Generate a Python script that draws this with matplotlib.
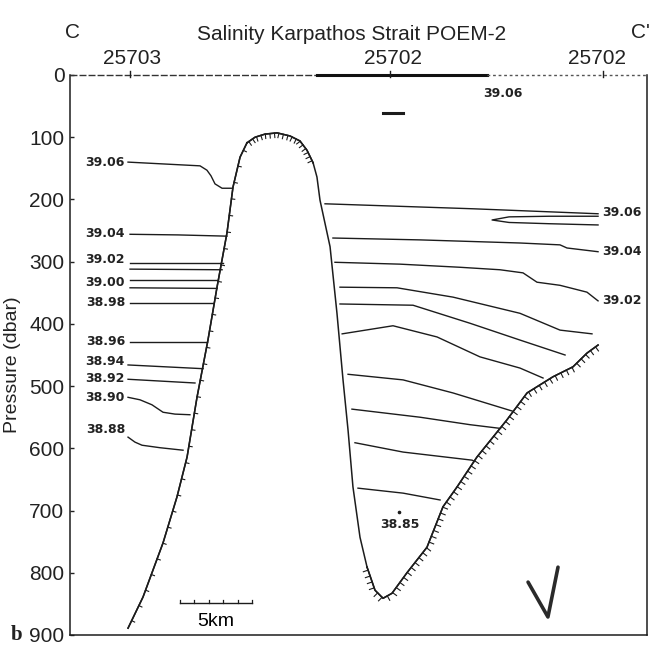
import matplotlib
matplotlib.use("Agg")
import matplotlib.pyplot as plt
import matplotlib.patheffects as pe

plt.rcParams['font.family'] = ['Liberation Sans', 'DejaVu Sans']

# ---- section geometry: distance (km) and pressure (dbar) ----
ridge_left_km = [4.03, 5.07, 6.46, 7.43, 8.13, 8.82, 9.58, 10.21, 10.90, 11.32, 11.81, 12.29]
ridge_left_p = [889, 839, 752, 678, 614, 518, 426, 341, 254, 180, 132, 109]
ridge_top_km = [12.29, 12.85, 13.54, 14.38, 15.28, 15.97, 16.46, 16.88]
ridge_top_p = [109, 100, 95, 93, 98, 106, 121, 141]
ridge_right_km = [16.88, 17.15, 17.36, 18.06, 18.54, 18.96, 19.31, 19.65, 20.14, 20.63]
ridge_right_p = [141, 164, 201, 276, 383, 490, 571, 662, 743, 791]
basin_km = [20.63, 21.18, 21.74, 22.36, 23.40, 24.79, 25.90, 26.88, 28.26, 30.35, 31.74,
            33.54, 34.93, 35.90, 36.67]
basin_p = [791, 828, 841, 833, 800, 759, 694, 662, 614, 554, 511, 485, 469, 447, 434]

# ---- isohalines west of the ridge ----
west_lines = [
    ([4.03, 9.03, 9.51, 9.79, 10.07, 10.56, 11.25], [140, 146, 153, 162, 175, 182, 182]),
    ([4.17, 7.5, 10.90], [256, 257, 259]),
    ([4.17, 10.63], [302, 302]),
    ([4.17, 10.56], [312, 313]),
    ([4.17, 10.28], [329, 329]),
    ([4.17, 10.21], [342, 343]),
    ([4.17, 9.93], [366, 366]),
    ([4.17, 9.51], [429, 429]),
    ([4.03, 9.24], [466, 472]),
    ([4.03, 8.68], [489, 495]),
    ([4.03, 4.86, 5.69, 6.46, 7.29, 8.33], [518, 522, 530, 542, 545, 546]),
    ([4.03, 4.51, 5.00, 6.25, 7.85], [582, 590, 595, 599, 603]),
]
west_labels = ['39.06', '39.04', '39.02', '39.00', '38.98', '38.96', '38.94', '38.92',
               '38.90', '38.88']
west_label_p = [140, 254, 297, 334, 366, 429, 461, 487, 519, 569]

# ---- isohalines east of the ridge ----
east_lines = [
    ([17.71, 27.99, 36.67], [207, 215, 223]),
    ([36.67, 33.26, 30.49, 29.31, 30.49, 33.26, 36.67], [227, 227, 228, 233, 237, 239, 241]),
    ([18.26, 24.31, 31.25, 34.03, 34.51, 36.67], [262, 265, 270, 273, 278, 284]),
    ([18.40, 22.92, 27.08, 29.86, 31.46, 32.43, 34.03, 35.90, 36.67],
     [301, 304, 309, 313, 318, 333, 338, 349, 363]),
    ([18.75, 22.71, 26.60, 31.25, 34.03, 36.25], [341, 342, 357, 383, 410, 416]),
    ([18.75, 23.82, 27.78, 31.25, 34.38], [368, 370, 399, 426, 450]),
    ([18.90, 22.43, 25.49, 28.47, 31.25, 32.85], [416, 403, 421, 453, 471, 487]),
    ([19.31, 23.13, 26.60, 30.70], [481, 490, 511, 540]),
    ([19.58, 24.31, 27.78, 29.90], [537, 550, 562, 568]),
    ([19.79, 23.13, 27.92, 28.10], [591, 606, 619, 621]),
    ([20.00, 23.13, 25.70], [664, 672, 683]),
]
east_labels = ['39.06', '39.04', '39.02']
east_label_p = [221, 284, 363]

core_label = '38.85'
core_km, core_p = 22.92, 723

stations = ['25703', '25702', '25702']
station_km = [4.17, 22.22, 37.0]
station_label_km = [4.3, 22.4, 36.6]

pressure_ticks = list(range(0, 1000, 100))

# ---- figure ----
fig = plt.figure(figsize=(6.52, 6.46), dpi=100)
ax = fig.add_axes([70 / 652, 1 - 635 / 646, 577 / 652, 560 / 646])
ax.set_xlim(0, 40.07)
ax.set_ylim(900, 0)

ink = '#1c1c1c'
lw = 1.0

# sea floor
ax.plot(ridge_left_km, ridge_left_p, color=ink, lw=1.1,
        path_effects=[pe.withTickedStroke(angle=-90, spacing=12, length=0.2, linewidth=0.8),
                      pe.Normal()])
ax.plot(ridge_top_km, ridge_top_p, color=ink, lw=1.1,
        path_effects=[pe.withTickedStroke(angle=-90, spacing=3.2, length=1.0, linewidth=0.8),
                      pe.Normal()])
ax.plot(ridge_right_km, ridge_right_p, color=ink, lw=1.1)
ax.plot(basin_km, basin_p, color=ink, lw=1.1,
        path_effects=[pe.withTickedStroke(angle=-90, spacing=4.5, length=0.8, linewidth=0.8),
                      pe.Normal()])

for xs, ps in west_lines + east_lines:
    ax.plot(xs, ps, color=ink, lw=lw)

lab_kw = dict(fontsize=9, color='#222222', family=['DejaVu Sans'], fontweight='bold')
for txt, p in zip(west_labels, west_label_p):
    ax.text(3.82, p, txt, ha='right', va='center', **lab_kw)
for txt, p in zip(east_labels, east_label_p):
    ax.text(36.95, p, txt, ha='left', va='center', **lab_kw)
ax.text(core_km, core_p, core_label, ha='center', va='center', **lab_kw)
ax.plot([22.85], [702], marker='o', ms=1.6, color=ink)
ax.text(30.07, 29, '39.06', ha='center', va='center', **lab_kw)
ax.plot([21.74, 23.13], [61, 61], color=ink, lw=2.2)

# 5 km scale bar
sb_x0, sb_len, sb_p = 7.64, 5, 849
ax.plot([sb_x0, sb_x0 + sb_len], [sb_p, sb_p], color=ink, lw=1.0)
for k in range(sb_len + 1):
    ax.plot([sb_x0 + k, sb_x0 + k], [sb_p, sb_p - 5], color=ink, lw=0.9)
ax.text(sb_x0 + sb_len / 2, 879, '5km', ha='center', va='center', fontsize=14)

# hand-drawn check mark
ax.plot([31.81, 33.19, 33.89], [815, 871, 791], color='#2a2a2a', lw=2.6,
        solid_capstyle='round', solid_joinstyle='round')

# frame
ax.spines['top'].set_visible(False)
for side in ['left', 'right', 'bottom']:
    ax.spines[side].set_color(ink)
    ax.spines[side].set_linewidth(1.1)
ax.plot([0, 17.15], [0, 0], color='#333333', lw=1.0, ls=(0, (5, 1.5)), clip_on=False)
ax.plot([17.15, 28.96], [0, 0], color='#111111', lw=2.2, clip_on=False)
ax.plot([28.96, 40.07], [0, 0], color='#555555', lw=1.0, ls=(0, (2, 2)), clip_on=False)

for k in station_km:
    ax.plot([k, k], [-6, 3], color=ink, lw=1.0, clip_on=False)
for name, k in zip(stations, station_label_km):
    ax.text(k, -27, name, ha='center', va='center', fontsize=15, color='#222222')

ax.set_xticks([])
ax.set_yticks(pressure_ticks)
ax.tick_params(axis='y', direction='in', length=3, width=1, labelsize=15,
               colors='#222222', pad=4)
ax.set_ylabel('Pressure (dbar)', fontsize=14, color='#222222')
ax.yaxis.set_label_coords(-0.085, 0.482)

fig.text(352 / 652, 1 - 35 / 646, 'Salinity Karpathos Strait POEM-2', ha='center',
         va='center', fontsize=15, color='#222222')
fig.text(72 / 652, 1 - 33 / 646, 'C', ha='center', va='center', fontsize=15, color='#222222')
fig.text(640 / 652, 1 - 33 / 646, "C'", ha='center', va='center', fontsize=15, color='#222222')
fig.text(17 / 652, 1 - 635 / 646, 'b', ha='center', va='center', fontsize=15,
         fontweight='bold', family=['Liberation Serif', 'DejaVu Serif'], color='#222222')

fig.savefig('out.png', dpi=100, facecolor='white')
